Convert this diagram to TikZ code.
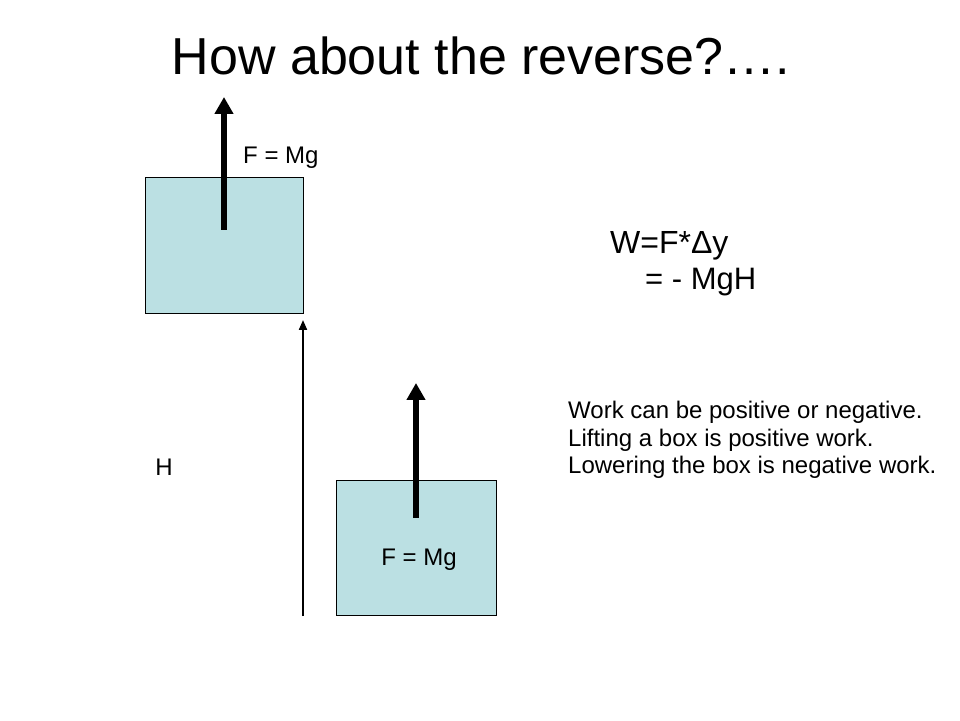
\documentclass[tikz,border=0pt]{standalone}
\usepackage{fontspec}
\setmainfont{Liberation Sans}
\usepackage{tikz}
\usetikzlibrary{arrows.meta}
\definecolor{boxblue}{RGB}{187,224,227}
\tikzstyle{block} = [rectangle, 
minimum width=158pt, 
minimum height=136pt, 
inner sep=0pt, 
draw=black, 
line width=1pt, 
fill=boxblue]
\tikzstyle{label} = [inner sep=0pt, font=\fontsize{24}{27.6}\selectfont]
\tikzstyle{force} = [line width=6pt,-{Triangle[length=17pt,width=18pt]}]
\tikzstyle{height} = [line width=2pt,-{Triangle[length=10pt,width=8pt]}]

\begin{document}
\begin{tikzpicture}[x=1pt, y=1pt]
    \useasboundingbox (0,0) rectangle (960,720);
    \node (title) [inner sep=0pt, anchor=base, font=\fontsize{52}{60}\selectfont] at (481,645) {How about the reverse?\dots.};

    \node (upper) [block, anchor=north west] at (145,543) {};
    \node (lower) [block, minimum width=160pt, minimum height=135pt, anchor=south west] at (336,104) {};

    \coordinate (upperstart) at (224,490);
    \coordinate (upperend) at (224,623);
    \coordinate (lowerstart) at (416,202);
    \coordinate (lowerend) at (416,337);
    \coordinate (hstart) at (303,104);
    \coordinate (hend) at (303,400);

    \node (fupper) [label, anchor=base west] at (243,556) {F = Mg};
    \node (flower) [label, anchor=base] at (419,154) {F = Mg};
    \node (hlabel) [label, anchor=base] at (164,244) {H};

    \node (work) [inner sep=0pt, anchor=base west, font=\fontsize{32}{36}\selectfont] at (610,466) {W=F*Δy};
    \node (result) [inner sep=0pt, anchor=base west, font=\fontsize{31}{36}\selectfont] at (645,430) {= - MgH};

    \node (note) [label, anchor=base west, align=left] at (568,246) {Work can be positive or negative.\\Lifting a box is positive work.\\Lowering the box is negative work.};

    \draw [force] (upperstart) -- (upperend);
    \draw [force] (lowerstart) -- (lowerend);
    \draw [height] (hstart) -- (hend);
\end{tikzpicture}
\end{document}
